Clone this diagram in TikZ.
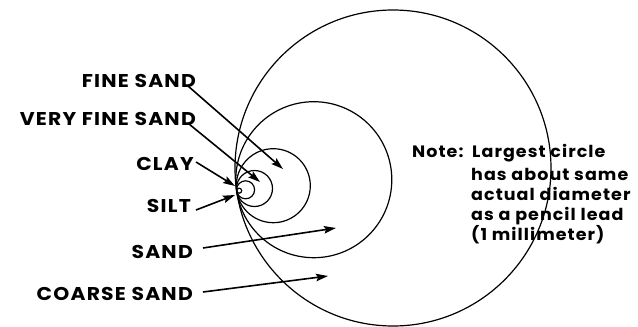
\documentclass[tikz,border=0pt]{standalone}
\usepackage{fontspec}
\usepackage{graphicx}
\setmainfont{Poppins}
\newfontfamily\spacedfont{Poppins}[LetterSpace=6]
\usetikzlibrary{arrows.meta}
\newcommand{\widetxt}[1]{\scalebox{1.1}[1]{#1}}
\newcommand{\widenote}[1]{\scalebox{1.06}[1]{#1}}
\tikzset{
  lbl/.style={font=\spacedfont\fontsize{18.5}{20}\selectfont\bfseries, inner sep=0pt, anchor=base east},
  note/.style={font=\spacedfont\fontsize{16.5}{20}\selectfont\bfseries, inner sep=0pt, anchor=base west},
  ring/.style={line width=1.2pt},
  pointer/.style={line width=1.6pt, -{Stealth[length=12pt,width=7.5pt,inset=2pt]}}
}
\begin{document}
\begin{tikzpicture}[x=1pt,y=-1pt]
\useasboundingbox (0,0) rectangle (638,327);
% circles (all tangent at the left)
\draw[ring] (393,168.0) circle[radius=158pt];
\draw[ring] (313.8,179.7) circle[radius=78pt];
\draw[ring] (273.3,185.7) circle[radius=37pt];
\draw[ring] (254.5,188.5) circle[radius=18pt];
\draw[ring] (245.6,189.8) circle[radius=9pt];
\draw[ring] (239.2,190.7) circle[radius=2.5pt];
% labels
\node[lbl] (fine) at (196,87) {\widetxt{FINE SAND}};
\node[lbl] (vfine) at (196,125) {\widetxt{VERY FINE SAND}};
\node[lbl] (clay) at (194,170) {\widetxt{CLAY}};
\node[lbl] (silt) at (191,212) {\widetxt{SILT}};
\node[lbl] (sand) at (193,258) {\widetxt{SAND}};
\node[lbl] (coarse) at (193,300) {\widetxt{COARSE SAND}};
% arrow endpoints
\coordinate (fineS) at (188,86);   \coordinate (fineT) at (283,169);
\coordinate (vfineS) at (189,124); \coordinate (vfineT) at (260,182);
\coordinate (clayS) at (196,162);  \coordinate (clayT) at (235,186);
\coordinate (siltS) at (196,210);  \coordinate (siltT) at (235,195);
\coordinate (sandS) at (203,248);  \coordinate (sandT) at (336,228);
\coordinate (coarseS) at (203,292); \coordinate (coarseT) at (328,276);
\draw[pointer] (fineS) -- (fineT);
\draw[pointer] (vfineS) -- (vfineT);
\draw[pointer] (clayS) -- (clayT);
\draw[pointer] (siltS) -- (siltT);
\draw[pointer] (sandS) -- (sandT);
\draw[pointer] (coarseS) -- (coarseT);
% note
\node[note] (n0) at (412,157) {\widenote{Note:}};
\node[note] (n1) at (472,157) {\widenote{Largest circle}};
\node[note] (n2) at (471,180) {\widenote{has about same}};
\node[note] (n3) at (471,200) {\widenote{actual diameter}};
\node[note] (n4) at (471,220) {\widenote{as a pencil lead}};
\node[note] (n5) at (471,240) {\widenote{(1 millimeter)}};
\end{tikzpicture}
\end{document}
